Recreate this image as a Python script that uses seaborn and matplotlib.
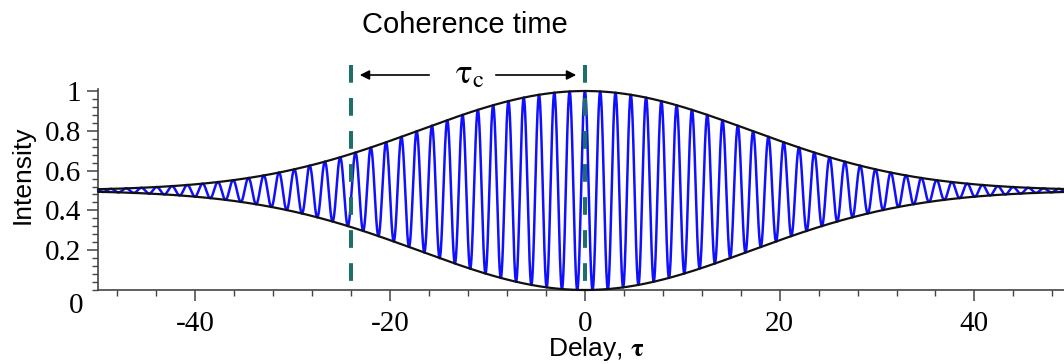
import numpy as np
import pandas as pd
import matplotlib
matplotlib.use("Agg")
import matplotlib.pyplot as plt
import seaborn as sns
from matplotlib.ticker import MultipleLocator, FixedLocator, FixedFormatter

# Interferogram parameters: Gaussian envelope with coherence time tau_c,
# fringes of period fringe_period, mean intensity 0.5
tau_c = 24.0
fringe_period = np.pi / 2
mean_level = 0.5
delay_range = (-50.0, 49.2)
marker_delays = [-24.0, 0.0]
y_tick_values = [0.2, 0.4, 0.6, 0.8, 1.0]
y_tick_labels = ["0.2", "0.4", "0.6", "0.8", "1"]
x_tick_values = [-40, -20, 0, 20, 40]
x_tick_labels = ["-40", "-20", "0", "20", "40"]

tau = np.linspace(delay_range[0], delay_range[1] + 1, 20000)
envelope = np.exp(-(tau / tau_c) ** 2)
intensity = mean_level + mean_level * envelope * np.cos(2 * np.pi * tau / fringe_period)
df = pd.DataFrame({
    "tau": tau,
    "intensity": intensity,
    "upper": mean_level + mean_level * envelope,
    "lower": mean_level - mean_level * envelope,
})

sns.set_style("white")
plt.rcParams["mathtext.fontset"] = "stix"
plt.rcParams["text.color"] = "black"
serif = ["Liberation Serif", "DejaVu Serif"]
sans = ["Liberation Sans", "DejaVu Sans"]

W, H = 1064, 364
fig = plt.figure(figsize=(W / 100, H / 100), dpi=100)
ax = fig.add_axes([98 / W, (H - 290) / H, (W - 98) / W, 199 / H])

sns.lineplot(data=df, x="tau", y="intensity", ax=ax, color="#1010ff", lw=1.8,
             zorder=3, clip_on=False)
for col in ["upper", "lower"]:
    sns.lineplot(data=df, x="tau", y=col, ax=ax, color="#111111", lw=1.6,
                 zorder=5, clip_on=False)

for d in marker_delays:
    ax.plot([d, d], [1.13, 0.025], color="#1e6e69", lw=2.9,
            dashes=(4.4, 3.8), zorder=4, clip_on=False)

ax.set_xlim(*delay_range)
ax.set_ylim(0, 1.0)
ax.set_xlabel("")
ax.set_ylabel("")

for s in ["top", "right"]:
    ax.spines[s].set_visible(False)
for s in ["left", "bottom"]:
    ax.spines[s].set_color("#444444")
    ax.spines[s].set_linewidth(1.2)
ax.spines["left"].set_bounds(0, 1.01)

ax.xaxis.set_major_locator(FixedLocator(x_tick_values))
ax.xaxis.set_major_formatter(FixedFormatter(x_tick_labels))
ax.xaxis.set_minor_locator(MultipleLocator(4))
ax.yaxis.set_major_locator(FixedLocator(y_tick_values))
ax.yaxis.set_major_formatter(FixedFormatter(y_tick_labels))
ax.yaxis.set_minor_locator(MultipleLocator(0.04))

ax.tick_params(axis="both", which="major", direction="out", length=8, width=1.1,
               color="#444444", labelsize=21, labelcolor="black",
               bottom=True, left=True)
ax.tick_params(axis="both", which="minor", direction="out", length=4, width=1.0,
               color="#444444", bottom=True, left=True)
ax.tick_params(axis="x", which="major", pad=7)
ax.tick_params(axis="y", which="major", pad=4)
for lab in ax.get_xticklabels() + ax.get_yticklabels():
    lab.set_fontfamily(serif)

# origin label sits below the y axis
fig.text(76 / W, 1 - 306 / H, "0", ha="center", va="center", fontsize=21,
         family=serif)

fig.text(23 / W, 1 - 175 / H, "Intensity", rotation=90, ha="center",
         va="center", fontsize=19, family=sans)
fig.text(596 / W, 1 - 349 / H, r"Delay, $\mathbf{\tau}$", ha="center",
         va="center", fontsize=19, family=sans)
fig.text(465 / W, 1 - 25 / H, "Coherence time", ha="center", va="center",
         fontsize=21, family=sans)

# coherence-time span annotation
fig.text(470 / W, 1 - 73 / H, r"$\mathrm{\tau}_{\mathrm{c}}$", ha="center",
         va="center", fontsize=25)
arrow_y = 1 - 75 / H
fig.add_artist(matplotlib.patches.FancyArrowPatch(
    (432 / W, arrow_y), (357 / W, arrow_y), transform=fig.transFigure,
    arrowstyle="-|>", mutation_scale=14, color="black", lw=1.2))
fig.add_artist(matplotlib.patches.FancyArrowPatch(
    (493 / W, arrow_y), (579 / W, arrow_y), transform=fig.transFigure,
    arrowstyle="-|>", mutation_scale=14, color="black", lw=1.2))

fig.savefig("out.png", dpi=100)
